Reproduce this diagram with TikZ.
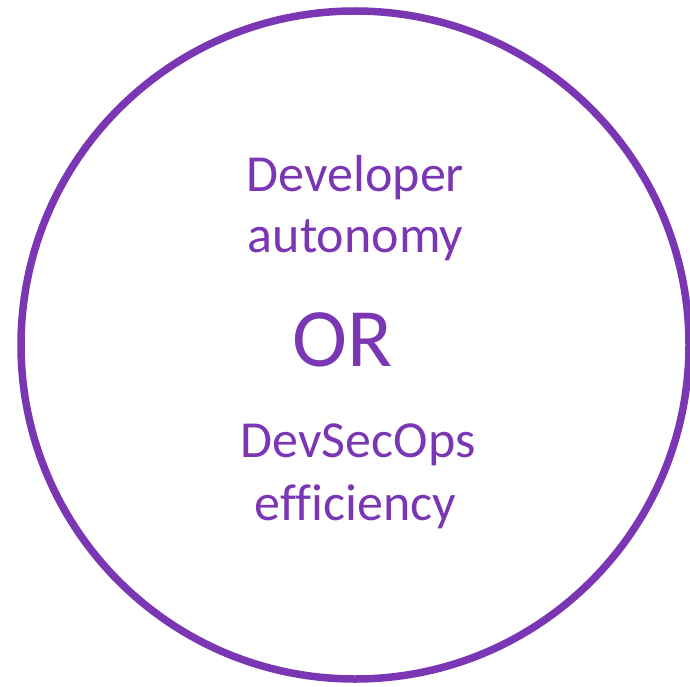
\documentclass[tikz,border=0pt]{standalone}
\usepackage{fontspec}
\setmainfont[Ligatures=NoCommon]{Carlito}
\definecolor{ringpurple}{HTML}{7B36B4}
\begin{document}
\begin{tikzpicture}[x=1pt,y=-1pt,
  ring/.style={draw=ringpurple, line width=7.5pt},
  label/.style={text=ringpurple, inner sep=0pt, anchor=base, font=\fontsize{52}{62}\selectfont},
  bigword/.style={text=ringpurple, inner sep=0pt, anchor=base, font=\fontsize{83}{99}\selectfont}]
\useasboundingbox (0,0) rectangle (690,687);
\node[ring, circle, minimum size=668pt, inner sep=0pt] (ring) at (355,345) {};
\node[label] (l1) at (355.5,192) {Developer};
\node[label] (l2) at (355.5,252) {autonomy};
\node[bigword] (or) at (343,366) {OR};
\node[label] (l3) at (358,457) {DevSecOps};
\node[label] (l4) at (355.5,520) {efficiency};
\end{tikzpicture}
\end{document}
